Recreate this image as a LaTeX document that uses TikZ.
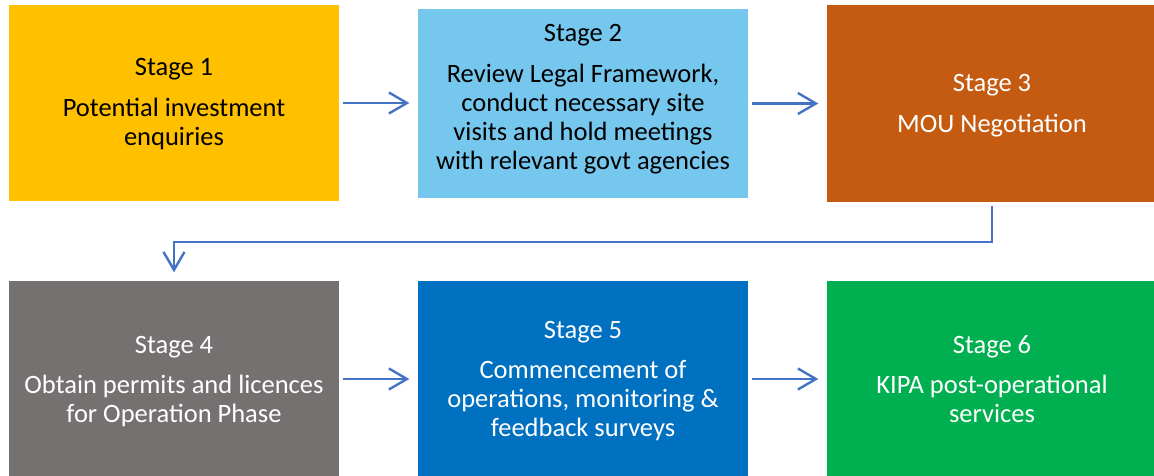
\documentclass[tikz,border=0pt]{standalone}
\usepackage{fontspec}
\setmainfont{Carlito}
\usetikzlibrary{arrows.meta,calc}
\definecolor{cone}{HTML}{FFC000}
\definecolor{ctwo}{HTML}{75C7EE}
\definecolor{cthree}{HTML}{C55A11}
\definecolor{cfour}{HTML}{767171}
\definecolor{cfive}{HTML}{0070C0}
\definecolor{csix}{HTML}{00B050}
\definecolor{carrow}{HTML}{4472C4}
\tikzset{
  stagebox/.style={rectangle, inner sep=0pt, minimum width=330pt},
  stagetext/.style={inner sep=0pt, align=center,
    font=\fontsize{26.5}{29}\selectfont},
  conn/.style={draw=carrow, line width=2.4pt,
    -{Straight Barb[length=18pt,width=21pt,line width=2.4pt]},
    shorten <=3.5pt, shorten >=8.5pt},
}
\begin{document}
\begin{tikzpicture}[x=1pt,y=1pt]
\clip (0,0) rectangle (1154,-476);
\fill[white] (0,0) rectangle (1154,-476);
\node[stagebox, fill=cone, minimum height=196pt,
  label={[stagetext, text=black, yshift=-1.5pt]center:{Stage 1\\[12pt]Potential investment\\enquiries}}] (s1) at (174,-103) {};
\node[stagebox, fill=ctwo, minimum height=189pt,
  label={[stagetext, text=black, yshift=4pt]center:{Stage 2\\[12pt]Review Legal Framework,\\conduct necessary site\\visits and hold meetings\\with relevant govt agencies}}] (s2) at (583,-103.5) {};
\node[stagebox, fill=cthree, minimum height=197pt,
  label={[stagetext, text=white, yshift=-2.5pt]center:{Stage 3\\[12pt]MOU Negotiation}}] (s3) at (992,-103.5) {};
\node[stagebox, fill=cfour, minimum height=196pt,
  label={[stagetext, text=white, yshift=-2.5pt]center:{Stage 4\\[11pt]Obtain permits and licences\\for Operation Phase}}] (s4) at (174,-379) {};
\node[stagebox, fill=cfive, minimum height=196pt,
  label={[stagetext, text=white, yshift=-2pt]center:{Stage 5\\[11pt]Commencement of\\operations, monitoring \&\\feedback surveys}}] (s5) at (583,-379) {};
\node[stagebox, fill=csix, minimum height=196pt,
  label={[stagetext, text=white]center:{Stage 6\\[11pt]KIPA post-operational\\services}}] (s6) at (992,-379) {};
\coordinate (bend) at ($(s3.south)+(0,-39.5)$);
\draw[conn] (s1.east) -- (s2.west |- s1.east);
\draw[conn] (s2.east) -- (s3.west |- s2.east);
\draw[conn] (s4.east) -- (s5.west |- s4.east);
\draw[conn] (s5.east) -- (s6.west |- s5.east);
\draw[conn] (s3.south) -- (bend) -| (s4.north);
\end{tikzpicture}
\end{document}
